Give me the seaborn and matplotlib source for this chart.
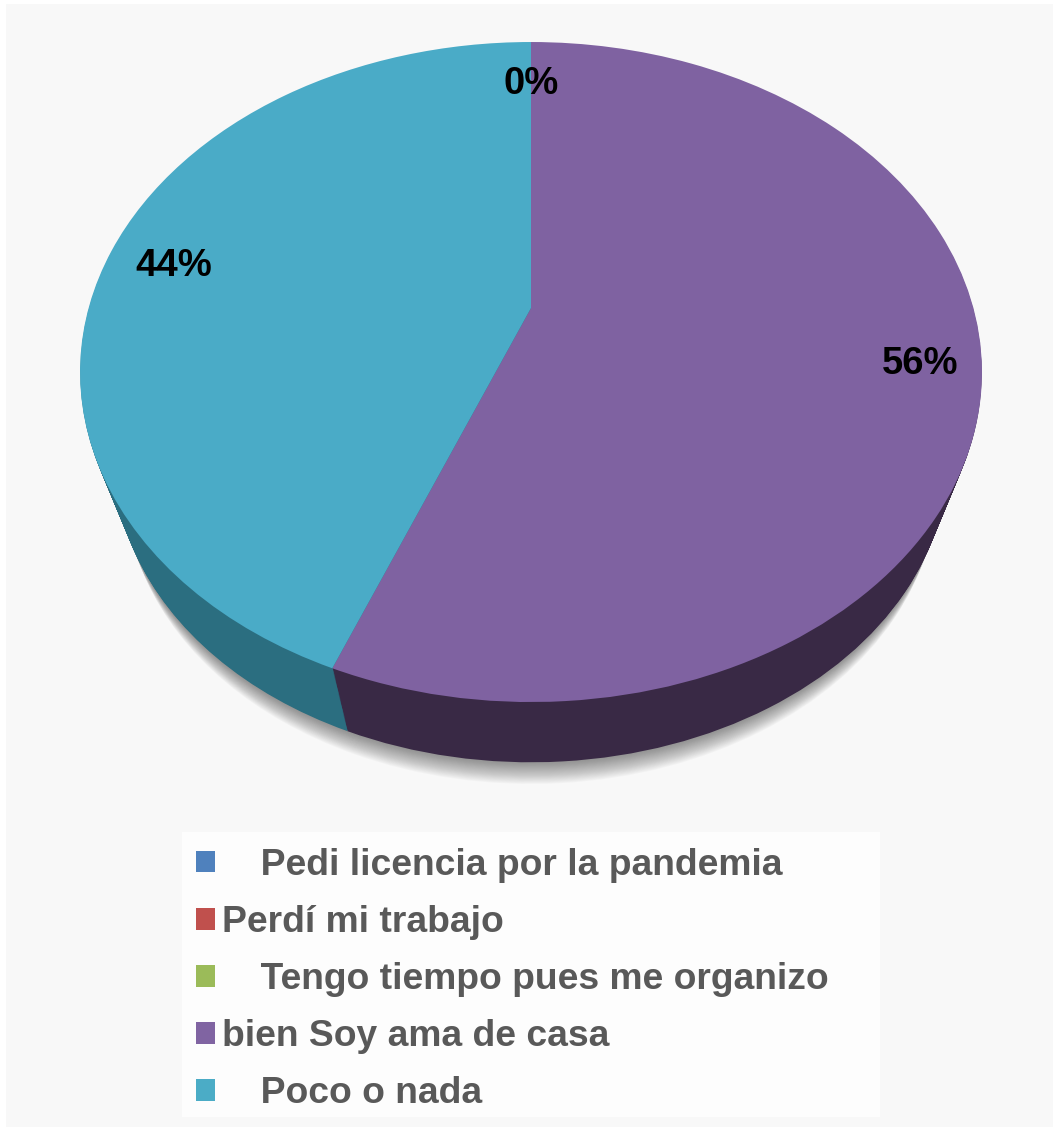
import matplotlib
matplotlib.use("Agg")
import matplotlib.pyplot as plt
import numpy as np
import seaborn as sns
from matplotlib.patches import Patch, Rectangle
from matplotlib.transforms import Affine2D, Transform

# =========================================
# DATA
# =========================================

categories = [
    "   \u2009Pedi licencia por la pandemia",
    "Perdí mi trabajo",
    "   \u2009Tengo tiempo pues me organizo",
    "bien Soy ama de casa",
    "   \u2009Poco o nada",
]
values = [0, 0, 0, 56, 44]
top_colors = ["#4f81bd", "#c0504d", "#9bbb59", "#7f62a1", "#4aabc7"]
side_colors = ["#2c4d72", "#74302e", "#5d7135", "#392945", "#2b6e80"]
legend_colors = ["#4f81bd", "#c0504d", "#9bbb59", "#8064a2", "#4bacc6"]

pct_labels = ["0%", "44%", "56%"]
pct_pos = [(531, 84), (174, 266), (920, 364)]

W, H = 1053, 1127


# =========================================
# TILTED DISC (circle -> ellipse with shifted centre)
# =========================================

class Tilt(Transform):
    input_dims = 2
    output_dims = 2

    def transform_non_affine(self, xy):
        xy = np.asarray(xy, dtype=float)
        u, v = xy[:, 0], xy[:, 1]
        den = 1 + 0.194 * v
        return np.column_stack((531 + 442.4 * u / den, 372 - (330 * v + 64) / den))


def layer(t):
    # t=0 is the top face, t=1 the bottom edge of the pie
    s = 1 - 0.075 * t
    return Affine2D().translate(-531, -372).scale(s).translate(531, 372 + 85 * t)


def draw_pie(ax, colors, t, alpha=None, zorder=1):
    wedges, _ = ax.pie(
        values,
        colors=colors,
        startangle=90,
        counterclock=False,
        radius=1,
        wedgeprops={"linewidth": 0, "alpha": alpha},
    )
    for w in wedges:
        w.set_transform(Tilt() + layer(t) + ax.transData)
        w.set_zorder(zorder)


# =========================================
# CHART
# =========================================

sns.set_theme(style="white")
plt.rcParams["font.family"] = ["Liberation Sans", "DejaVu Sans"]

fig = plt.figure(figsize=(W / 100, H / 100), dpi=100, facecolor="white")
ax = fig.add_axes([6 / W, 0, (W - 6) / W, (H - 4) / H])

# soft shadow under the pie
for t in np.linspace(1.36, 1.0, 24):
    draw_pie(ax, ["#202020"] * 5, t, alpha=0.022, zorder=1)

# side wall
for i, t in enumerate(np.linspace(1, 0.01, 60)):
    draw_pie(ax, side_colors, t, zorder=2 + i * 0.001)

# top face
draw_pie(ax, top_colors, 0, zorder=3)

ax.set_aspect("auto")
ax.set_xlim(6, W)
ax.set_ylim(H, 4)
ax.set_frame_on(True)
ax.set_facecolor("#f8f8f8")
for spine in ax.spines.values():
    spine.set_visible(False)

for label, (x, y) in zip(pct_labels, pct_pos):
    ax.text(x, y, label, ha="center", va="center", fontsize=27.5,
            fontweight="bold", color="black", zorder=5)

# =========================================
# LEGEND
# =========================================

# lighter box behind the legend
ax.add_patch(Rectangle((182, 832), 698, 285, facecolor="#fdfdfd", edgecolor="none", zorder=4))

handles = [Patch(facecolor=c, edgecolor="none") for c in legend_colors]
leg = ax.legend(
    handles,
    categories,
    loc="upper left",
    bbox_to_anchor=(182 / W, 1 - 1117 / H, 698 / W, 283 / H),
    bbox_transform=fig.transFigure,
    mode="expand",
    borderaxespad=0,
    borderpad=0.37,
    labelcolor="#595959",
    prop={"weight": "bold", "size": 26.8},
    handlelength=0.515,
    handleheight=0.515,
    handletextpad=0.19,
    labelspacing=0.595,
    frameon=False,
)
leg.set_zorder(6)

plt.savefig("out.png", dpi=100, facecolor=fig.get_facecolor())
